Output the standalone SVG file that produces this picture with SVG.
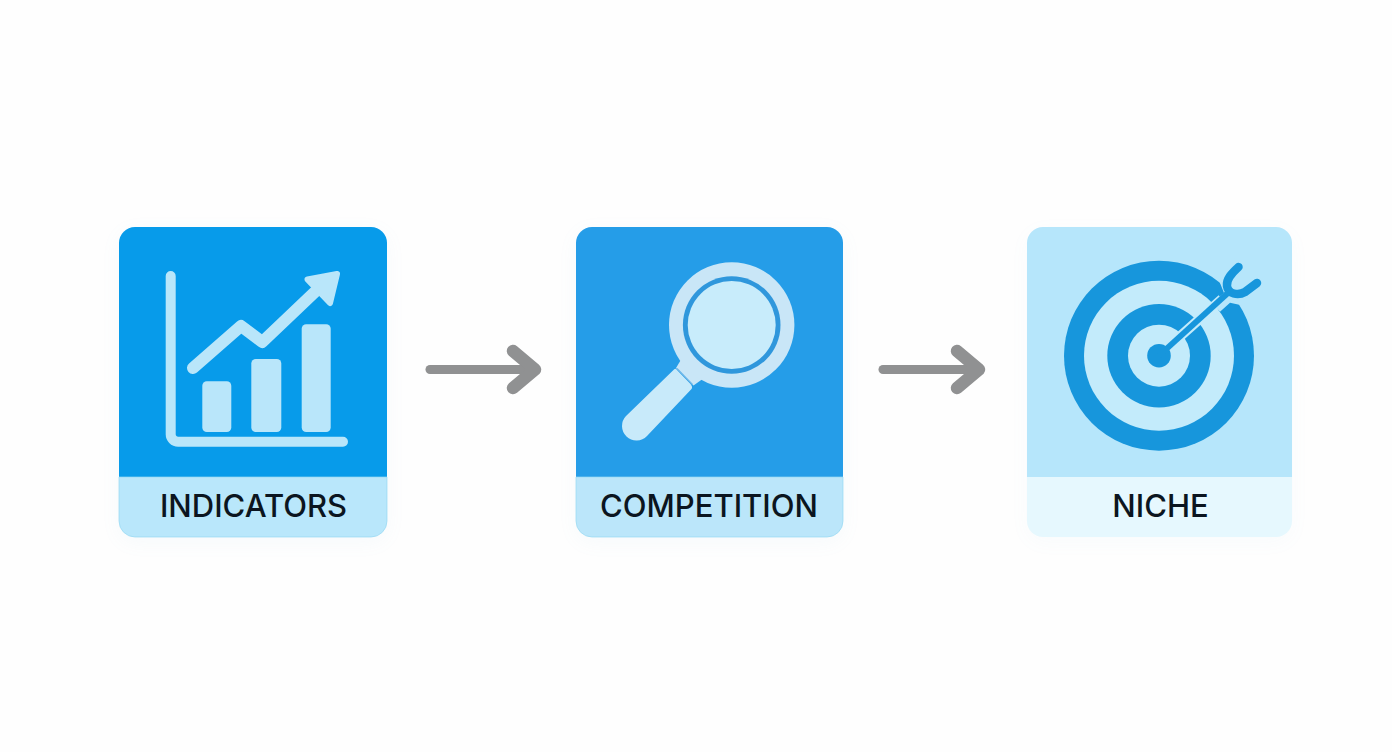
<svg xmlns="http://www.w3.org/2000/svg" width="1392" height="752" viewBox="0 0 1392 752">
<style>
.label{font-family:Inter,"Liberation Sans",sans-serif;font-size:31px;font-weight:450;fill:#0b1520;text-anchor:middle}
.conn{fill:none;stroke:#909192;stroke-width:9;stroke-linecap:round;stroke-linejoin:round}
.head{fill:none;stroke:#909192;stroke-width:12.500;stroke-linecap:round;stroke-linejoin:round}
.ln1{fill:none;stroke:#b9e6fa;stroke-width:10;stroke-linecap:round;stroke-linejoin:round}
.ln2{fill:none;stroke:#b9e6fa;stroke-width:12;stroke-linecap:round;stroke-linejoin:round}
.bar{fill:#b9e6fa}
.shadow{fill:#7fb8d8;opacity:.06;filter:url(#soft)}
</style>
<defs>
<filter id="soft" x="-20%" y="-20%" width="140%" height="140%"><feGaussianBlur stdDeviation="10"/></filter>
</defs>
<rect width="1392" height="752" fill="#fefefe"/>
<g id="connectors">
<g id="arrow-1"><path class="conn" d="M430 369.500H530"/><path class="head" d="M513 351L535 369.500L513 388"/></g>
<g id="arrow-2"><path class="conn" d="M883 369.500H974"/><path class="head" d="M957 351L979 369.500L957 388"/></g>
</g>
<g id="node-indicators">
<rect class="shadow" x="119" y="232" width="268" height="310" rx="16"/>
<path fill="#079bea" d="M119 477V243a16 16 0 0 1 16-16H371a16 16 0 0 1 16 16V477Z"/>
<path fill="#b9e7fb" stroke="#96d8f2" stroke-width=".7" d="M119 477H387V521a16 16 0 0 1-16 16H135a16 16 0 0 1-16-16Z"/>
<path class="ln1" d="M170.700 276V434a7.500 7.500 0 0 0 7.500 7.700H343"/>
<rect class="bar" x="202.300" y="381.300" width="29" height="50.700" rx="4.500"/>
<rect class="bar" x="251.300" y="359" width="30" height="73" rx="4.500"/>
<rect class="bar" x="301.700" y="324.300" width="29" height="107.700" rx="4.500"/>
<path class="ln2" d="M193 368L241 326L262.300 342L318 289"/>
<path fill="#b9e6fa" stroke="#b9e6fa" stroke-width="6" stroke-linejoin="round" d="M337 274L307.500 279.500L330 303Z"/>
<text class="label" x="253.500" y="517">INDICATORS</text>
</g>
<g id="node-competition">
<rect class="shadow" x="576" y="232" width="267" height="310" rx="16"/>
<path fill="#259de8" d="M576 477V243a16 16 0 0 1 16-16H827a16 16 0 0 1 16 16V477Z"/>
<path fill="#bbe6fa" stroke="#96d8f2" stroke-width=".7" d="M576 477H843V521a16 16 0 0 1-16 16H592a16 16 0 0 1-16-16Z"/>
<path fill="#c9e6f7" d="M682 358L704 378L693.500 385.500L676 368Z"/>
<path fill="#c8eafa" d="M674 369.500Q675.500 368 677 370L690.500 384Q693 387 691.500 389L647 436A14.500 14.500 0 0 1 626 416Z"/>
<path fill="none" stroke="#6cb6e8" stroke-width="1.200" d="M677 368.500L692.500 384.500"/>
<circle cx="731.700" cy="325" r="62.700" fill="#c9e6f7"/>
<circle cx="731.700" cy="325" r="48.800" fill="#2f97dc"/>
<circle cx="731.700" cy="325" r="44" fill="#c8ecfb"/>
<text class="label" x="709" y="517">COMPETITION</text>
</g>
<g id="node-niche">
<rect class="shadow" x="1027" y="232" width="265" height="310" rx="16" style="opacity:.04"/>
<path fill="#b6e6fb" d="M1027 477V243a16 16 0 0 1 16-16H1276a16 16 0 0 1 16 16V477Z"/>
<path fill="#e6f8fe" d="M1027 477H1292V521a16 16 0 0 1-16 16H1043a16 16 0 0 1-16-16Z"/>
<circle cx="1159" cy="355.700" r="95" fill="#1796dc"/>
<circle cx="1159" cy="355.700" r="75" fill="#c3ebfb"/>
<circle cx="1159" cy="355.700" r="51.700" fill="#1796dc"/>
<circle cx="1159" cy="355.700" r="31" fill="#c3ebfb"/>
<path fill="none" stroke="#c3ebfb" stroke-width="10" d="M1176 340L1222 299"/>
<path fill="#b6e6fb" d="M1220 283L1224 293L1211.700 303.300L1220 311.700L1230 302.700L1242.700 305.500L1262 285L1235 258Z"/>
<circle cx="1159" cy="355.700" r="11.800" fill="#1796dc"/>
<path fill="none" stroke="#1796dc" stroke-width="5.800" d="M1159 355.700L1229 292"/>
<path fill="none" stroke="#1796dc" stroke-width="8.500" stroke-linecap="round" stroke-linejoin="round" d="M1238.500 267C1232 273 1226 279 1227 286C1228 294 1238 296 1245 292L1257 283"/>
<text class="label" x="1160.500" y="517">NICHE</text>
</g>
</svg>
